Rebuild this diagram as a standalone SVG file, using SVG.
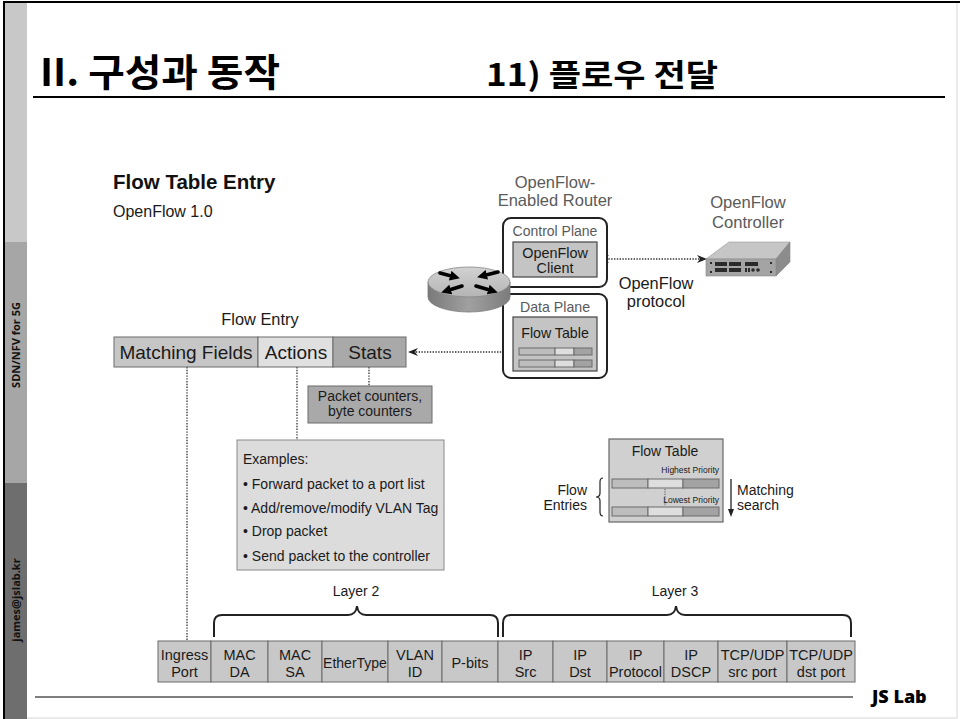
<svg xmlns="http://www.w3.org/2000/svg" width="960" height="719" viewBox="0 0 960 719">
  <defs>
    <style>
      .dia { font-family: "Liberation Sans", Arial, sans-serif; fill: #1a1a1a; }
      .gray { fill: #5a5a5a; }
      .cell { stroke: #6a6a6a; stroke-width: 1; }
      .dot { fill: none; stroke: #333; stroke-width: 1.3; stroke-dasharray: 1.4 1.4; }
      .brace { fill: none; stroke: #222; stroke-width: 2; }
      .title { font-family: "Noto Sans CJK KR", "Liberation Sans", sans-serif; font-weight: 700; fill: #000; }
      .side { font-family: "Open Sans", "Liberation Sans", sans-serif; font-weight: 700; font-size: 11px; fill: #111; }
    </style>
    <marker id="head" viewBox="0 0 10 8" refX="9" refY="4" markerWidth="10" markerHeight="8" markerUnits="userSpaceOnUse" orient="auto-start-reverse">
      <path d="M0,0 L10,4 L0,8 L3,4 Z" fill="#222"/>
    </marker>
    <marker id="rhead" viewBox="0 0 10 10" refX="5" refY="5" markerWidth="10" markerHeight="10" markerUnits="userSpaceOnUse" orient="auto">
      <path d="M0,0 L10,5 L0,10 Z" fill="#000"/>
    </marker>
    <linearGradient id="cyl" x1="0" y1="0" x2="1" y2="0">
      <stop offset="0" stop-color="#7a7a7a"/>
      <stop offset="0.5" stop-color="#a0a0a0"/>
      <stop offset="1" stop-color="#7c7c7c"/>
    </linearGradient>
    <linearGradient id="cyltop" x1="0" y1="0" x2="0" y2="1">
      <stop offset="0" stop-color="#d2d2d2"/>
      <stop offset="1" stop-color="#b4b4b4"/>
    </linearGradient>
  </defs>

  <!-- slide frame and side band -->
  <rect x="0" y="0" width="960" height="719" fill="#fff"/>
  <rect x="4" y="2" width="953" height="716" fill="none" stroke="#d6d6d6" stroke-width="1"/>
  <rect x="5" y="3" width="22" height="239" fill="#c8c8c8"/>
  <rect x="5" y="242" width="22" height="241" fill="#a6a6a6"/>
  <rect x="5" y="483" width="22" height="236" fill="#6e6e6e"/>
  <line x1="4" y1="2" x2="4" y2="719" stroke="#000" stroke-width="2"/>
  <line x1="3" y1="2" x2="960" y2="2" stroke="#000" stroke-width="2"/>
  <text class="side" transform="translate(20,345) rotate(-90)" text-anchor="middle">SDN/NFV for 5G</text>
  <text class="side" transform="translate(20,600) rotate(-90)" text-anchor="middle">james@jslab.kr</text>

  <!-- header -->
  <text class="title" x="40" y="86" font-size="38" textLength="240" lengthAdjust="spacingAndGlyphs">II. 구성과 동작</text>
  <text class="title" x="486" y="86" font-size="31" textLength="232" lengthAdjust="spacingAndGlyphs">11) 플로우 전달</text>
  <line x1="33" y1="97" x2="945" y2="97" stroke="#000" stroke-width="2"/>

  <!-- footer -->
  <line x1="35" y1="697" x2="853" y2="697" stroke="#000" stroke-width="1.2"/>
  <text x="872" y="703" font-family="'Open Sans', 'Liberation Sans', sans-serif" font-weight="800" font-size="18" fill="#000">JS Lab</text>

  <!-- headings -->
  <g id="heading" class="dia">
    <text x="113" y="189" font-size="20.5" font-weight="700" fill="#111">Flow Table Entry</text>
    <text x="113" y="217" font-size="16">OpenFlow 1.0</text>
  </g>

  <!-- connectors -->
  <g id="connectors">
    <line class="dot" x1="600" y1="259" x2="706" y2="259" marker-start="url(#head)" marker-end="url(#head)"/>
    <line class="dot" x1="518" y1="352" x2="409" y2="352" marker-end="url(#head)"/>
    <line class="dot" x1="187" y1="367" x2="187" y2="641"/>
    <line class="dot" x1="297" y1="367" x2="297" y2="440"/>
    <line class="dot" x1="369" y1="367" x2="369" y2="386"/>
    <path class="brace" d="M214,637 L214,623 Q214,615 222,615 L348,615 Q356,615 357,606 Q358,615 366,615 L490,615 Q498,615 498,623 L498,637"/>
    <path class="brace" d="M503,637 L503,623 Q503,615 511,615 L667,615 Q675,615 676,606 Q677,615 685,615 L843,615 Q851,615 851,623 L851,637"/>
  </g>

  <!-- OpenFlow-enabled router -->
  <g id="router" class="dia">
    <text class="gray" x="555" y="188" font-size="16.5" text-anchor="middle">OpenFlow-</text>
    <text class="gray" x="555" y="206" font-size="16.5" text-anchor="middle">Enabled Router</text>
    <rect x="503" y="218" width="104" height="69" rx="8" fill="#fff" stroke="#222" stroke-width="2"/>
    <text class="gray" x="555" y="236" font-size="14" text-anchor="middle">Control Plane</text>
    <rect x="513" y="242" width="84" height="35" fill="#c4c4c4" stroke="#444" stroke-width="1.2"/>
    <text x="555" y="258" font-size="14.4" text-anchor="middle">OpenFlow</text>
    <text x="555" y="273" font-size="14.4" text-anchor="middle">Client</text>
    <rect x="503" y="294" width="104" height="84" rx="8" fill="#fff" stroke="#222" stroke-width="2"/>
    <text class="gray" x="555" y="312" font-size="14.2" text-anchor="middle">Data Plane</text>
    <rect x="513" y="317" width="84" height="54" fill="#c4c4c4" stroke="#444" stroke-width="1.2"/>
    <text x="555" y="338" font-size="14.2" text-anchor="middle">Flow Table</text>
    <g class="cell" stroke-width="0.8">
      <rect x="519" y="348" width="36" height="7" fill="#bdbdbd"/>
      <rect x="555" y="348" width="19" height="7" fill="#dedede"/>
      <rect x="574" y="348" width="18" height="7" fill="#a3a3a3"/>
      <rect x="519" y="360" width="36" height="7" fill="#bdbdbd"/>
      <rect x="555" y="360" width="19" height="7" fill="#dedede"/>
      <rect x="574" y="360" width="18" height="7" fill="#a3a3a3"/>
    </g>
    <!-- router cylinder -->
    <path d="M428,282 L428,297 A41,15 0 0 0 510,297 L510,282 Z" fill="url(#cyl)" stroke="#777" stroke-width="0.8"/>
    <ellipse cx="469" cy="282" rx="41" ry="15" fill="url(#cyltop)" stroke="#888" stroke-width="0.8"/>
    <g stroke="#000" stroke-width="3.6" stroke-linecap="round" marker-end="url(#rhead)">
      <line x1="440" y1="273" x2="455" y2="277"/>
      <line x1="498" y1="272" x2="482" y2="276"/>
      <line x1="462" y1="286" x2="446" y2="291"/>
      <line x1="476" y1="286" x2="493" y2="291"/>
    </g>
  </g>

  <!-- controller -->
  <g id="controller" class="dia">
    <text class="gray" x="748" y="208" font-size="16.6" text-anchor="middle">OpenFlow</text>
    <text class="gray" x="748" y="228" font-size="16.6" text-anchor="middle">Controller</text>
    <polygon points="706,259 729,242 790,242 776,259" fill="#c6c6c6" stroke="#999" stroke-width="0.6"/>
    <polygon points="776,259 790,242 790,262 776,276" fill="#8c8c8c" stroke="#888" stroke-width="0.6"/>
    <rect x="706" y="259" width="70" height="17" fill="#a4a4a4" stroke="#888" stroke-width="0.6"/>
    <g fill="#2a2a2a">
      <rect x="710" y="262" width="2" height="2"/>
      <rect x="710" y="271" width="2" height="2"/>
      <rect x="770" y="262" width="2" height="2"/>
      <rect x="770" y="271" width="2" height="2"/>
      <rect x="715" y="262" width="12" height="4"/>
      <rect x="715" y="268" width="12" height="4"/>
      <rect x="729" y="262" width="12" height="4"/>
      <rect x="729" y="268" width="12" height="4"/>
      <rect x="745" y="262" width="13" height="4"/>
      <rect x="745" y="268" width="2" height="4"/>
      <rect x="748" y="268" width="2" height="4"/>
      <circle cx="753" cy="270" r="1.8"/>
      <circle cx="758" cy="270" r="1.8"/>
    </g>
  </g>

  <text class="dia" x="656" y="289" font-size="16.4" text-anchor="middle">OpenFlow</text>
  <text class="dia" x="656" y="307" font-size="16.4" text-anchor="middle">protocol</text>

  <!-- flow entry bar -->
  <g id="flow-entry" class="dia">
    <text x="260" y="325" font-size="16.4" text-anchor="middle">Flow Entry</text>
    <rect class="cell" x="114" y="337" width="144" height="30" fill="#c6c6c6"/>
    <rect class="cell" x="258" y="337" width="75" height="30" fill="#e0e0e0"/>
    <rect class="cell" x="333" y="337" width="73" height="30" fill="#a9a9a9"/>
    <text x="186" y="359" font-size="19" text-anchor="middle">Matching Fields</text>
    <text x="296" y="359" font-size="19" text-anchor="middle">Actions</text>
    <text x="370" y="359" font-size="19" text-anchor="middle">Stats</text>
  </g>

  <g id="stats-note" class="dia">
    <rect class="cell" x="308" y="386" width="124" height="37" fill="#a9a9a9"/>
    <text x="370" y="401" font-size="14" text-anchor="middle">Packet counters,</text>
    <text x="370" y="416" font-size="14" text-anchor="middle">byte counters</text>
  </g>

  <g id="examples" class="dia" font-size="14">
    <rect x="237" y="440" width="207" height="130" fill="#dcdcdc" stroke="#8a8a8a" stroke-width="1"/>
    <text x="243" y="464">Examples:</text>
    <text x="243" y="489">• Forward packet to a port list</text>
    <text x="243" y="513">• Add/remove/modify VLAN Tag</text>
    <text x="243" y="536">• Drop packet</text>
    <text x="243" y="561">• Send packet to the controller</text>
  </g>

  <!-- flow table priority sketch -->
  <g id="flow-table" class="dia">
    <rect x="609" y="439" width="114" height="83" fill="#d0d0d0" stroke="#666" stroke-width="1.2"/>
    <text x="665" y="456" font-size="14" text-anchor="middle">Flow Table</text>
    <text x="719" y="473" font-size="8.5" text-anchor="end">Highest Priority</text>
    <rect class="cell" x="612" y="479" width="36" height="9" fill="#bdbdbd"/>
    <rect class="cell" x="648" y="479" width="35" height="9" fill="#dedede"/>
    <rect class="cell" x="683" y="479" width="36" height="9" fill="#a3a3a3"/>
    <line x1="665" y1="489" x2="665" y2="506" stroke="#555" stroke-width="1" stroke-dasharray="1.2 1.2"/>
    <text x="719" y="503" font-size="8.5" text-anchor="end">Lowest Priority</text>
    <rect class="cell" x="612" y="507" width="36" height="9" fill="#bdbdbd"/>
    <rect class="cell" x="648" y="507" width="35" height="9" fill="#dedede"/>
    <rect class="cell" x="683" y="507" width="36" height="9" fill="#a3a3a3"/>
    <path d="M603,478 Q600,478 600,482 L600,493 Q600,497 596,497 Q600,497 600,501 L600,512 Q600,516 603,516" fill="none" stroke="#222" stroke-width="1.2"/>
    <text x="587" y="495" font-size="14" text-anchor="end">Flow</text>
    <text x="587" y="510" font-size="14" text-anchor="end">Entries</text>
    <line x1="731" y1="479" x2="731" y2="510" stroke="#222" stroke-width="1.3"/>
    <path d="M728,509 L731,517 L734,509 Z" fill="#222"/>
    <text x="737" y="495" font-size="14">Matching</text>
    <text x="737" y="510" font-size="14">search</text>
  </g>

  <!-- match field table -->
  <g id="match-fields" class="dia" font-size="14.5" text-anchor="middle">
    <text x="356" y="596" font-size="14">Layer 2</text>
    <text x="675" y="596" font-size="14">Layer 3</text>
    <g class="cell" fill="#c8c8c8">
      <rect x="158" y="641" width="53" height="41"/>
      <rect x="211" y="641" width="57" height="41"/>
      <rect x="268" y="641" width="54" height="41"/>
      <rect x="322" y="641" width="66" height="41"/>
      <rect x="388" y="641" width="54" height="41"/>
      <rect x="442" y="641" width="56" height="41"/>
      <rect x="498" y="641" width="55" height="41"/>
      <rect x="553" y="641" width="54" height="41"/>
      <rect x="607" y="641" width="57" height="41"/>
      <rect x="664" y="641" width="54" height="41"/>
      <rect x="718" y="641" width="69" height="41"/>
      <rect x="787" y="641" width="68" height="41"/>
    </g>
    <text x="184.5" y="660">Ingress</text><text x="184.5" y="677">Port</text>
    <text x="239.5" y="660">MAC</text><text x="239.5" y="677">DA</text>
    <text x="295" y="660">MAC</text><text x="295" y="677">SA</text>
    <text x="355" y="668" font-size="14">EtherType</text>
    <text x="415" y="660">VLAN</text><text x="415" y="677">ID</text>
    <text x="470" y="668">P-bits</text>
    <text x="525.5" y="660">IP</text><text x="525.5" y="677">Src</text>
    <text x="580" y="660">IP</text><text x="580" y="677">Dst</text>
    <text x="635.5" y="660">IP</text><text x="635.5" y="677">Protocol</text>
    <text x="691" y="660">IP</text><text x="691" y="677">DSCP</text>
    <text x="752.5" y="660">TCP/UDP</text><text x="752.5" y="677">src port</text>
    <text x="821" y="660">TCP/UDP</text><text x="821" y="677">dst port</text>
  </g>
</svg>
